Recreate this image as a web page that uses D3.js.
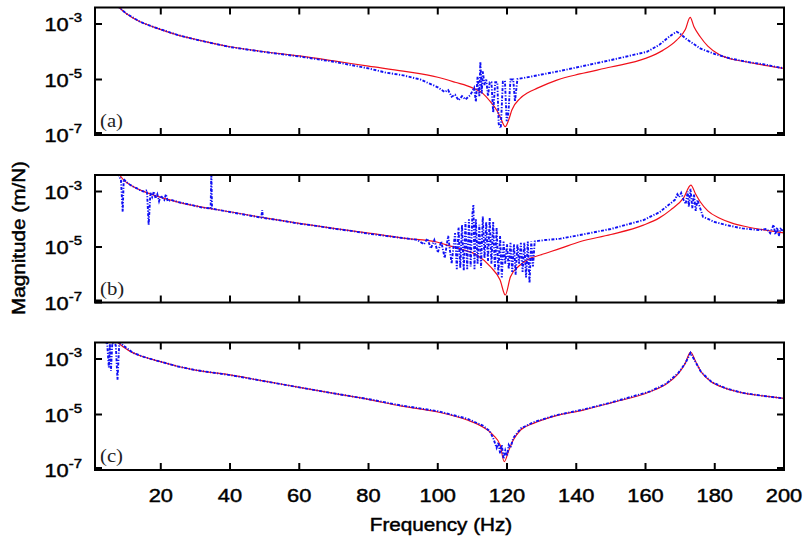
<!DOCTYPE html>
<html>
<head>
<meta charset="utf-8">
<script src="https://cdn.jsdelivr.net/npm/d3@7"></script>
<style>
  body { margin: 0; background: #fff; }
  svg { display: block; }
</style>
</head>
<body>
<svg id="chart" width="803" height="540"></svg>
<script>
// tick values and panel names
const freqTicks = [20, 40, 60, 80, 100, 120, 140, 160, 180, 200];
const magTicks = [-3, -5, -7];          // decades shown on the y axis
const panelNames = ["(a)", "(b)", "(c)"];

// every series: [frequency (Hz), log10 magnitude (m/N)]
// red = model, blue = measurement
const redA = [[7.5,-2.35],[10,-2.62],[14,-2.92],[18,-3.11],[25,-3.40],[30,-3.55],[40,-3.82],[50,-4.00],[60,-4.15],[70,-4.33],[80,-4.52],[90,-4.70],[100,-4.92],[105,-5.10],[110,-5.30],[113,-5.50],[115.2,-5.80],[117,-6.10],[118,-6.34],[119.5,-6.70],[120.5,-6.45],[121.4,-6.10],[123.8,-5.68],[126,-5.48],[128.6,-5.32],[134.4,-5.02],[141,-4.80],[150,-4.55],[160,-4.24],[165,-3.95],[169,-3.58],[171.5,-3.20],[172.9,-2.76],[174,-3.10],[175.8,-3.46],[178,-3.80],[181.5,-4.12],[185,-4.27],[189,-4.36],[195,-4.50],[200,-4.60]];

const blueA = [[7.5,-2.35],[10,-2.62],[14,-2.92],[18,-3.11],[25,-3.40],[30,-3.56],[40,-3.83],[50,-4.01],[60,-4.17],[70,-4.36],[80,-4.60],[85,-4.75],[90,-4.85],[95,-5.00],[100,-5.28],[102,-5.45],[103,-5.38],[104,-5.62],[105,-5.55],[106,-5.75],[107,-5.60],[108,-5.72],[109.4,-5.56],[110.5,-5.30],[111,-5.80],[111.5,-4.90],[112,-5.60],[112.3,-4.36],[112.7,-5.50],[113,-4.70],[113.5,-5.20],[114,-5.00],[114.5,-5.60],[115,-5.10],[115.5,-5.10],[116,-6.20],[116.6,-5.10],[117.2,-5.10],[117.6,-6.60],[118.2,-6.75],[118.8,-5.08],[119.4,-5.05],[119.9,-6.50],[120.4,-6.20],[121,-5.00],[121.8,-5.00],[122.3,-5.80],[123,-4.98],[124,-4.96],[126.7,-4.90],[130,-4.82],[135,-4.70],[141,-4.54],[150,-4.30],[160.4,-4.00],[164,-3.75],[166.2,-3.52],[168,-3.35],[169,-3.28],[170,-3.35],[171.9,-3.55],[175.8,-3.88],[180,-4.08],[184.4,-4.24],[190,-4.38],[194,-4.45],[200,-4.60]];

const redB = [[7.5,-2.30],[9.3,-2.59],[12,-2.82],[18,-3.13],[25,-3.38],[30,-3.52],[40,-3.73],[50,-3.95],[60,-4.15],[70,-4.33],[80.6,-4.51],[90,-4.68],[100,-4.83],[102.7,-4.93],[107,-5.08],[111.3,-5.29],[115.2,-5.71],[118,-6.19],[119.5,-6.73],[121,-6.07],[123.8,-5.65],[126,-5.45],[129.6,-5.29],[135.4,-5.05],[141,-4.81],[150,-4.55],[159.4,-4.21],[164,-3.95],[167.2,-3.67],[171,-3.23],[173.1,-2.77],[174.5,-3.10],[175.8,-3.37],[178,-3.70],[181.6,-3.97],[185,-4.14],[189.2,-4.27],[195,-4.40],[200,-4.49]];

const blueB = [[7.5,-2.35],[8,-2.45],[8.5,-2.60],[9,-3.73],[9.3,-2.55],[10,-2.65],[11,-2.75],[12,-2.82],[13,-2.88],[14,-2.95],[15,-3.00],[16,-2.95],[16.5,-4.20],[17,-3.05],[17.5,-3.20],[18,-3.00],[18.5,-3.25],[19,-3.10],[19.5,-3.35],[20,-3.15],[21,-3.30],[21.5,-3.10],[22,-3.35],[23,-3.30],[25,-3.38],[28,-3.46],[30,-3.52],[32,-3.58],[34.4,-3.61],[34.6,-2.30],[34.8,-3.62],[37,-3.67],[40,-3.74],[45,-3.85],[49,-3.94],[49.3,-3.67],[49.5,-3.95],[55,-4.05],[60,-4.16],[65,-4.24],[70,-4.34],[75,-4.42],[80,-4.52],[85,-4.60],[90,-4.68],[94,-4.74],[96,-4.90],[97,-4.70],[98,-5.05],[99,-4.75],[100,-5.20],[101,-4.80],[102,-5.40],[103,-4.60],[104,-5.60],[105,-4.50],[105.5,-5.80],[106,-4.30],[106.5,-5.75],[107,-4.20],[107.5,-5.85],[108,-4.10],[108.5,-5.80],[109,-4.00],[109.5,-5.70],[110,-3.80],[110.3,-3.49],[110.6,-5.80],[111,-4.00],[111.5,-5.60],[112,-4.20],[112.5,-5.75],[113,-3.90],[113.5,-5.40],[114,-4.10],[114.5,-5.50],[115,-3.95],[115.5,-5.60],[116,-4.10],[116.5,-5.80],[117,-4.30],[117.5,-6.00],[118,-4.60],[118.5,-6.10],[119,-4.80],[119.5,-5.60],[120,-4.90],[120.5,-5.80],[121,-4.85],[121.5,-5.90],[122,-4.90],[122.5,-6.00],[123,-4.90],[123.5,-5.60],[124,-4.85],[124.5,-5.90],[125,-4.85],[125.5,-6.10],[126,-4.80],[126.5,-6.30],[127,-4.80],[127.5,-5.70],[128,-4.80],[129,-4.78],[131,-4.75],[135.4,-4.70],[141,-4.57],[150,-4.35],[159.4,-4.03],[164,-3.75],[167.2,-3.43],[168.5,-3.30],[169.2,-3.10],[169.7,-3.20],[170.3,-3.05],[171,-3.30],[171.6,-3.45],[172.2,-3.00],[172.5,-3.55],[173,-2.90],[173.5,-3.60],[174,-3.10],[174.5,-3.70],[175,-3.30],[176.6,-3.91],[180,-4.10],[183.4,-4.21],[188,-4.33],[193,-4.39],[195,-4.35],[196,-4.50],[197,-4.20],[197.5,-4.55],[198,-4.30],[198.5,-4.60],[199,-4.35],[200,-4.45]];

const redC = [[7.5,-2.40],[9,-2.55],[12,-2.78],[15,-2.92],[18,-3.03],[25,-3.27],[30,-3.40],[40,-3.57],[50,-3.80],[60,-4.02],[70,-4.24],[80.6,-4.47],[89.2,-4.69],[100,-4.91],[108.5,-5.20],[113,-5.45],[116,-5.74],[118,-6.10],[119.2,-6.70],[120.5,-6.30],[121.8,-5.92],[124,-5.55],[127.6,-5.32],[134,-5.05],[142,-4.84],[150,-4.58],[161.3,-4.18],[166,-3.90],[169.5,-3.52],[171.5,-3.15],[173,-2.75],[174.5,-3.10],[176,-3.45],[179,-3.82],[183,-4.05],[188,-4.22],[194,-4.33],[200,-4.42]];

const blueC = [[4,-2.40],[4.5,-2.42],[5,-3.30],[5.3,-2.45],[5.6,-3.43],[6,-2.42],[6.5,-2.45],[7,-2.50],[7.5,-3.75],[8,-2.45],[8.5,-2.40],[9,-2.50],[12,-2.78],[15,-2.92],[18,-3.03],[25,-3.27],[30,-3.40],[40,-3.58],[50,-3.80],[60,-4.02],[70,-4.24],[80.6,-4.46],[89.2,-4.67],[100,-4.88],[108.5,-5.15],[113,-5.40],[115,-5.60],[116,-5.85],[117,-6.20],[117.5,-6.00],[118,-6.40],[118.5,-6.10],[119,-6.60],[119.5,-6.30],[120,-6.50],[120.5,-6.10],[121,-6.20],[121.8,-5.85],[124,-5.50],[127.6,-5.28],[134,-5.03],[142,-4.82],[150,-4.57],[161.3,-4.17],[166,-3.89],[169.5,-3.50],[171.5,-3.15],[173,-2.78],[174.5,-3.12],[176,-3.46],[179,-3.82],[183,-4.05],[188,-4.22],[194,-4.33],[200,-4.42]];

const panels = [
  { name: panelNames[0], red: redA, blue: blueA },
  { name: panelNames[1], red: redB, blue: blueB },
  { name: panelNames[2], red: redC, blue: blueC }
];

// layout
const left = 95, right = 784;
const panelTop0 = 7.5, panelH = 127.5, panelStep = 167.5;
const sx = 1.15;   // the source picture is stretched horizontally

const svg = d3.select("#chart");

const x = d3.scaleLinear().domain([1, 200]).range([left, right]);

// heavier sans text, like the scanned figure
function sansText(sel, size) {
  return sel
    .attr("font-family", "Liberation Sans, Arial, sans-serif")
    .attr("font-size", size)
    .attr("fill", "#000")
    .attr("stroke", "#000")
    .attr("stroke-width", 0.45);
}

panels.forEach((p, i) => {
  const top = panelTop0 + i * panelStep;
  const bottom = top + panelH;
  const y = d3.scaleLog().domain([1e-7, Math.pow(10, -2.405)]).range([bottom, top]);

  const g = svg.append("g");

  svg.append("clipPath").attr("id", "clip" + i)
    .append("rect")
    .attr("x", left).attr("y", top)
    .attr("width", right - left).attr("height", panelH);

  const lineRed = d3.line()
    .x(d => x(d[0]))
    .y(d => y(Math.pow(10, d[1])))
    .curve(d3.curveMonotoneX);

  const lineBlue = d3.line()
    .x(d => x(d[0]))
    .y(d => y(Math.pow(10, d[1])));

  const plot = g.append("g").attr("clip-path", `url(#clip${i})`);

  plot.append("path")
    .datum(p.red)
    .attr("d", lineRed)
    .attr("fill", "none")
    .attr("stroke", "#f0101a")
    .attr("stroke-width", 1.2);

  plot.append("path")
    .datum(p.blue)
    .attr("d", lineBlue)
    .attr("fill", "none")
    .attr("stroke", "#1010f5")
    .attr("stroke-width", 1.9)
    .attr("stroke-dasharray", "3,1.5,1.2,1.5");

  // frame
  g.append("rect")
    .attr("x", left).attr("y", top)
    .attr("width", right - left).attr("height", panelH)
    .attr("fill", "none")
    .attr("stroke", "#000")
    .attr("stroke-width", 2);

  // x ticks, inward on top and bottom
  freqTicks.forEach(f => {
    g.append("line")
      .attr("x1", x(f)).attr("x2", x(f))
      .attr("y1", bottom).attr("y2", bottom - 7)
      .attr("stroke", "#000").attr("stroke-width", 2);
    g.append("line")
      .attr("x1", x(f)).attr("x2", x(f))
      .attr("y1", top).attr("y2", top + 7)
      .attr("stroke", "#000").attr("stroke-width", 2);
  });

  // y ticks, inward on left and right, with 10^n labels
  magTicks.forEach(e => {
    const yy = y(Math.pow(10, e));
    const w = e === -7 ? 4 : 2;
    const ly = e === -7 ? yy - 1 : yy;
    g.append("line")
      .attr("x1", left).attr("x2", left + 7)
      .attr("y1", ly).attr("y2", ly)
      .attr("stroke", "#000").attr("stroke-width", w);
    g.append("line")
      .attr("x1", right).attr("x2", right - 7)
      .attr("y1", ly).attr("y2", ly)
      .attr("stroke", "#000").attr("stroke-width", w);

    const t = g.append("text")
      .attr("transform", `translate(82,${yy + 7}) scale(${sx},1)`)
      .attr("text-anchor", "end");
    sansText(t, 19);
    t.append("tspan").text("10");
    t.append("tspan").attr("dy", -9).attr("font-size", 13).text(String(e));
  });

  // panel label
  g.append("text")
    .attr("transform", `translate(100,${bottom - 8}) scale(${sx},1)`)
    .attr("font-family", "Liberation Serif, Times New Roman, serif")
    .attr("font-size", 18)
    .attr("fill", "#222")
    .text(p.name);
});

// x tick labels under the last panel
const lastBottom = panelTop0 + 2 * panelStep + panelH;
freqTicks.forEach(f => {
  sansText(svg.append("text"), 19)
    .attr("transform", `translate(${x(f)},${lastBottom + 32}) scale(${sx},1)`)
    .attr("text-anchor", "middle")
    .text(f);
});

// axis titles
sansText(svg.append("text"), 18)
  .attr("transform", `translate(441,531) scale(${sx},1)`)
  .attr("text-anchor", "middle")
  .text("Frequency (Hz)");

sansText(svg.append("text"), 18)
  .attr("transform", `translate(25,238) rotate(-90) scale(${sx},1)`)
  .attr("text-anchor", "middle")
  .text("Magnitude (m/N)");
</script>
</body>
</html>
